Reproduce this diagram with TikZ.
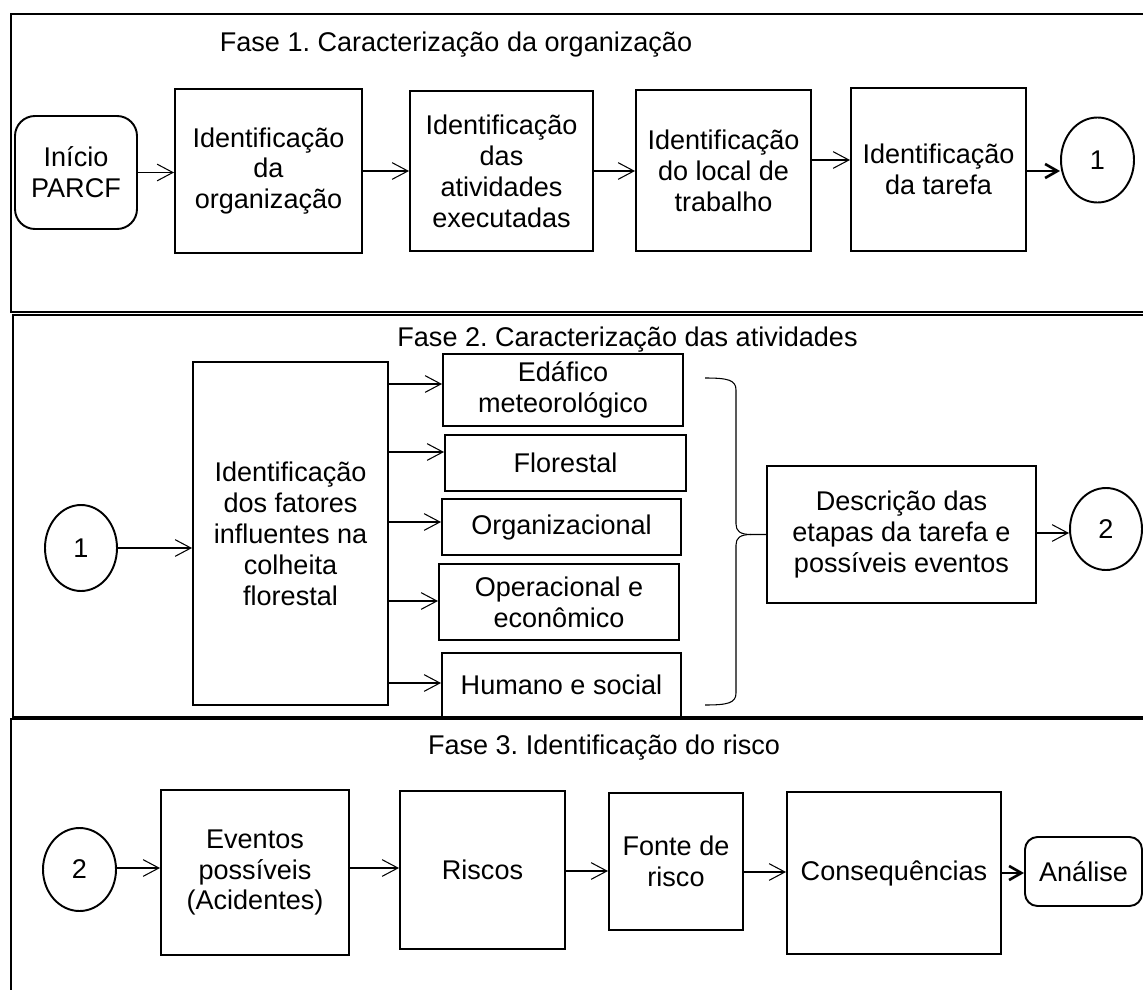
\documentclass[tikz,border=0pt]{standalone}
\usepackage{fontspec}
\setmainfont{Liberation Sans}
\usetikzlibrary{arrows.meta,shapes.geometric,calc}
\frenchspacing
\begin{document}
\begin{tikzpicture}[x=0.02cm,y=-0.02cm,
  every node/.style={font=\fontsize{15.4}{17.6}\selectfont, align=center, inner sep=0pt},
  box/.style={draw, line width=1.1pt},
  sz/.style 2 args={minimum width=#1*0.02cm, minimum height=#2*0.02cm},
  startbox/.style={box, rounded corners=0.4cm},
  endbox/.style={box, rounded corners=0.25cm},
  conn/.style={draw, ellipse, line width=1.1pt},
  arr/.style={line width=0.6pt, -{Straight Barb[length=9pt,width=9.5pt]}},
  thickarr/.style={line width=1.5pt, -{Straight Barb[length=7pt,width=8pt]}},
  frame/.style={line width=1.4pt},
  brace/.style={line width=0.6pt}
]
\useasboundingbox (0,0) rectangle (1143,990);
\clip (0,0) rectangle (1143,990);

% phase frames (open to the right)
\draw[frame] (1200,14) -- (11,14) -- (11,312) -- (1200,312);
\draw[frame] (1200,315) -- (13,315) -- (13,717) -- (1200,717);
\draw[frame] (1200,719) -- (11,719) -- (11,1050);

% ---------- Phase 1 ----------
\node (t1) at (456,45) {Fase 1. Caracterização da organização};
\node[startbox, sz={122}{113}] (ini) at (76,172.5) {Início\\PARCF};
\node[box, sz={187}{164}] (a) at (268.5,171) {Identificação\\da\\organização};
\node[box, sz={183}{160}] (b) at (501.5,171) {Identificação\\das\\atividades\\executadas};
\node[box, sz={175}{161}] (c) at (723.5,170.5) {Identificação\\do local de\\trabalho};
\node[box, sz={175}{163}] (d) at (938.5,169.5) {Identificação\\da tarefa};
\node[conn, sz={73}{85}] (k1) at (1097.5,160) {1};

\draw[arr] (ini.east) -- (ini.east -| a.west);
\draw[arr] (a.east) -- (a.east -| b.west);
\draw[arr] (b.east) -- (b.east -| c.west);
\draw[arr] (c.east |- 0,160) -- (d.west |- 0,160);
\draw[thickarr] (d.east |- 0,171) -- (k1.west |- 0,171);

% ---------- Phase 2 ----------
\node (t2) at (627.5,340) {Fase 2. Caracterização das atividades};
\node[conn, sz={72}{86}] (k1b) at (81,548) {1};
\node[box, sz={195}{343}] (f) at (290.5,533.5) {Identificação\\dos fatores\\influentes na\\colheita\\florestal};
\node[box, sz={240}{72}] (g1) at (563,390) {Edáfico\\meteorológico};
\node[box, sz={241}{56}] (g2) at (565.5,463) {Florestal};
\node[box, sz={239}{56}] (g3) at (561.5,527) {Organizacional};
\node[box, sz={240}{76}] (g4) at (559,602) {Operacional e\\econômico};
\node[box, sz={239}{64}] (g5) at (561.5,685) {Humano e social};
\node[box, sz={269}{137}] (e) at (901.5,534.5) {Descrição das\\etapas da tarefa e\\possíveis eventos};
\node[conn, sz={72}{82}] (k2) at (1106,529) {2};

\draw[arr] (k1b.east) -- (k1b.east -| f.west);
\draw[arr] (f.east |- 0,384) -- (g1.west |- 0,384);
\draw[arr] (f.east |- 0,452) -- (g2.west |- 0,452);
\draw[arr] (f.east |- 0,522) -- (g3.west |- 0,522);
\draw[arr] (f.east |- 0,601) -- (g4.west |- 0,601);
\draw[arr] (f.east |- 0,683) -- (g5.west |- 0,683);

% brace gathering the factor boxes
\draw[brace] (705,378) .. controls (728,378) and (736,380) .. (736,390) -- (736,524)
  .. controls (736,531) and (740,534.5) .. (751,534.5) -- (e.west);
\draw[brace] (705,705) .. controls (728,705) and (736,703) .. (736,693) -- (736,545)
  .. controls (736,538) and (740,534.5) .. (751,534.5);

\draw[arr] (e.east |- 0,533) -- (k2.west |- 0,533);

% ---------- Phase 3 ----------
\node (t3) at (604,748) {Fase 3. Identificação do risco};
\node[conn, sz={73}{83}] (k2b) at (79.5,869.5) {2};
\node[box, sz={188}{165}] (h1) at (255,872.5) {Eventos\\possíveis\\(Acidentes)};
\node[box, sz={165}{158}] (h2) at (482.5,870) {Riscos};
\node[box, sz={134}{137}] (h3) at (676,861.5) {Fonte de\\risco};
\node[box, sz={214}{162}] (h4) at (894,873) {Consequências};
\node[endbox, sz={117}{69}] (h5) at (1083.5,871.5) {Análise};

\draw[arr] (k2b.east |- 0,868) -- (h1.west |- 0,868);
\draw[arr] (h1.east |- 0,868) -- (h2.west |- 0,868);
\draw[arr] (h2.east |- 0,871) -- (h3.west |- 0,871);
\draw[arr] (h3.east |- 0,872) -- (h4.west |- 0,872);
\draw[thickarr] (h4.east |- 0,873) -- (h5.west |- 0,873);
\end{tikzpicture}
\end{document}
